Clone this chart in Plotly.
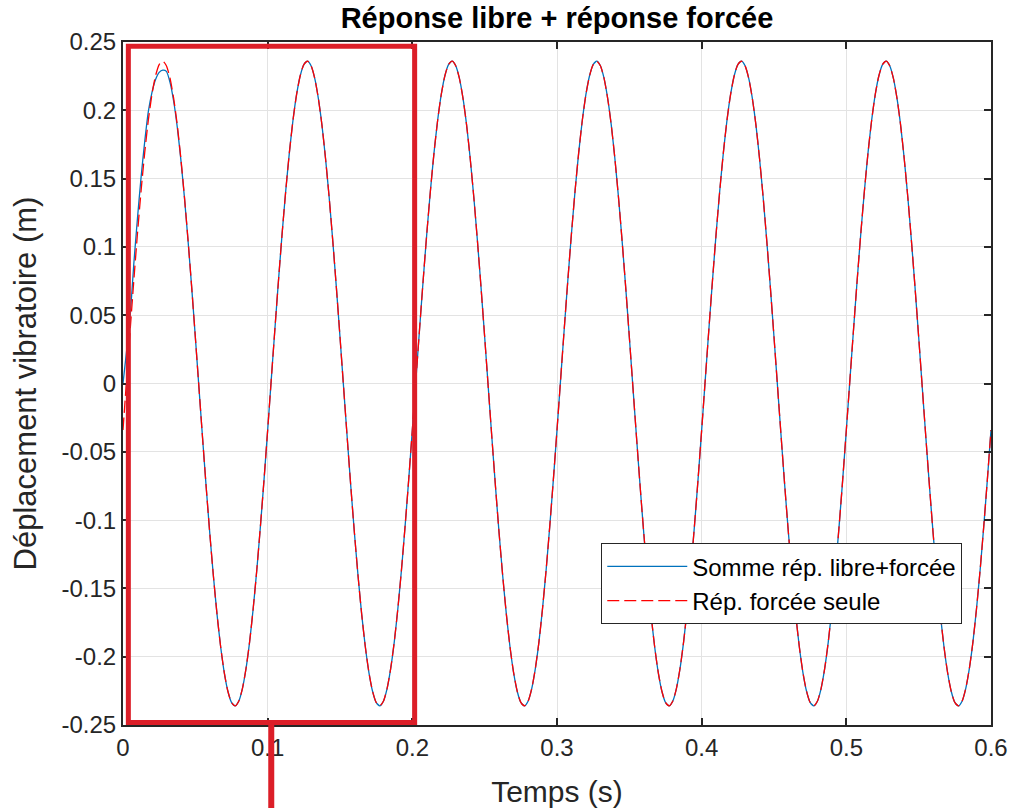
import plotly.graph_objects as go

# ---- data ----
time_s = [round(0.0025 * i, 4) for i in range(241)]

forced_only = [
    -0.0340, 0.0030, 0.0399, 0.0758, 0.1098, 0.1411, 0.1690, 0.1927, 0.2116, 0.2253, 0.2335, 0.2360, 0.2326, 0.2235, 0.2089, 0.1893, 0.1647, 0.1363, 0.1044, 0.0702,
    0.0340, -0.0030, -0.0399, -0.0758, -0.1098, -0.1411, -0.1690, -0.1927, -0.2116, -0.2253, -0.2335, -0.2360, -0.2326, -0.2235, -0.2089, -0.1893, -0.1647, -0.1363, -0.1044, -0.0702,
    -0.0340, 0.0030, 0.0399, 0.0758, 0.1098, 0.1411, 0.1690, 0.1927, 0.2116, 0.2253, 0.2335, 0.2360, 0.2326, 0.2235, 0.2089, 0.1893, 0.1647, 0.1363, 0.1044, 0.0702,
    0.0340, -0.0030, -0.0399, -0.0758, -0.1098, -0.1411, -0.1690, -0.1927, -0.2116, -0.2253, -0.2335, -0.2360, -0.2326, -0.2235, -0.2089, -0.1893, -0.1647, -0.1363, -0.1044, -0.0702,
    -0.0340, 0.0030, 0.0399, 0.0758, 0.1098, 0.1411, 0.1690, 0.1927, 0.2116, 0.2253, 0.2335, 0.2360, 0.2326, 0.2235, 0.2089, 0.1893, 0.1647, 0.1363, 0.1044, 0.0702,
    0.0340, -0.0030, -0.0399, -0.0758, -0.1098, -0.1411, -0.1690, -0.1927, -0.2116, -0.2253, -0.2335, -0.2360, -0.2326, -0.2235, -0.2089, -0.1893, -0.1647, -0.1363, -0.1044, -0.0702,
    -0.0340, 0.0030, 0.0399, 0.0758, 0.1098, 0.1411, 0.1690, 0.1927, 0.2116, 0.2253, 0.2335, 0.2360, 0.2326, 0.2235, 0.2089, 0.1893, 0.1647, 0.1363, 0.1044, 0.0702,
    0.0340, -0.0030, -0.0399, -0.0758, -0.1098, -0.1411, -0.1690, -0.1927, -0.2116, -0.2253, -0.2335, -0.2360, -0.2326, -0.2235, -0.2089, -0.1893, -0.1647, -0.1363, -0.1044, -0.0702,
    -0.0340, 0.0030, 0.0399, 0.0758, 0.1098, 0.1411, 0.1690, 0.1927, 0.2116, 0.2253, 0.2335, 0.2360, 0.2326, 0.2235, 0.2089, 0.1893, 0.1647, 0.1363, 0.1044, 0.0702,
    0.0340, -0.0030, -0.0399, -0.0758, -0.1098, -0.1411, -0.1690, -0.1927, -0.2116, -0.2253, -0.2335, -0.2360, -0.2326, -0.2235, -0.2089, -0.1893, -0.1647, -0.1363, -0.1044, -0.0702,
    -0.0340, 0.0030, 0.0399, 0.0758, 0.1098, 0.1411, 0.1690, 0.1927, 0.2116, 0.2253, 0.2335, 0.2360, 0.2326, 0.2235, 0.2089, 0.1893, 0.1647, 0.1363, 0.1044, 0.0702,
    0.0340, -0.0030, -0.0399, -0.0758, -0.1098, -0.1411, -0.1690, -0.1927, -0.2116, -0.2253, -0.2335, -0.2360, -0.2326, -0.2235, -0.2089, -0.1893, -0.1647, -0.1363, -0.1044, -0.0702,
    -0.0340,
]

free_plus_forced = [
    0.0000, 0.0240, 0.0500, 0.0880, 0.1210, 0.1510, 0.1770, 0.1990, 0.2130, 0.2225, 0.2278, 0.2294, 0.2285, 0.2205, 0.2068, 0.1878, 0.1637, 0.1357, 0.1040, 0.0700,
    0.0340, -0.0030, -0.0399, -0.0758, -0.1098, -0.1411, -0.1690, -0.1927, -0.2116, -0.2253, -0.2335, -0.2360, -0.2326, -0.2235, -0.2089, -0.1893, -0.1647, -0.1363, -0.1044, -0.0702,
    -0.0340, 0.0030, 0.0399, 0.0758, 0.1098, 0.1411, 0.1690, 0.1927, 0.2116, 0.2253, 0.2335, 0.2360, 0.2326, 0.2235, 0.2089, 0.1893, 0.1647, 0.1363, 0.1044, 0.0702,
    0.0340, -0.0030, -0.0399, -0.0758, -0.1098, -0.1411, -0.1690, -0.1927, -0.2116, -0.2253, -0.2335, -0.2360, -0.2326, -0.2235, -0.2089, -0.1893, -0.1647, -0.1363, -0.1044, -0.0702,
    -0.0340, 0.0030, 0.0399, 0.0758, 0.1098, 0.1411, 0.1690, 0.1927, 0.2116, 0.2253, 0.2335, 0.2360, 0.2326, 0.2235, 0.2089, 0.1893, 0.1647, 0.1363, 0.1044, 0.0702,
    0.0340, -0.0030, -0.0399, -0.0758, -0.1098, -0.1411, -0.1690, -0.1927, -0.2116, -0.2253, -0.2335, -0.2360, -0.2326, -0.2235, -0.2089, -0.1893, -0.1647, -0.1363, -0.1044, -0.0702,
    -0.0340, 0.0030, 0.0399, 0.0758, 0.1098, 0.1411, 0.1690, 0.1927, 0.2116, 0.2253, 0.2335, 0.2360, 0.2326, 0.2235, 0.2089, 0.1893, 0.1647, 0.1363, 0.1044, 0.0702,
    0.0340, -0.0030, -0.0399, -0.0758, -0.1098, -0.1411, -0.1690, -0.1927, -0.2116, -0.2253, -0.2335, -0.2360, -0.2326, -0.2235, -0.2089, -0.1893, -0.1647, -0.1363, -0.1044, -0.0702,
    -0.0340, 0.0030, 0.0399, 0.0758, 0.1098, 0.1411, 0.1690, 0.1927, 0.2116, 0.2253, 0.2335, 0.2360, 0.2326, 0.2235, 0.2089, 0.1893, 0.1647, 0.1363, 0.1044, 0.0702,
    0.0340, -0.0030, -0.0399, -0.0758, -0.1098, -0.1411, -0.1690, -0.1927, -0.2116, -0.2253, -0.2335, -0.2360, -0.2326, -0.2235, -0.2089, -0.1893, -0.1647, -0.1363, -0.1044, -0.0702,
    -0.0340, 0.0030, 0.0399, 0.0758, 0.1098, 0.1411, 0.1690, 0.1927, 0.2116, 0.2253, 0.2335, 0.2360, 0.2326, 0.2235, 0.2089, 0.1893, 0.1647, 0.1363, 0.1044, 0.0702,
    0.0340, -0.0030, -0.0399, -0.0758, -0.1098, -0.1411, -0.1690, -0.1927, -0.2116, -0.2253, -0.2335, -0.2360, -0.2326, -0.2235, -0.2089, -0.1893, -0.1647, -0.1363, -0.1044, -0.0702,
    -0.0340,
]

x_tick_vals = [0, 0.1, 0.2, 0.3, 0.4, 0.5, 0.6]
x_tick_text = ["0", "0.1", "0.2", "0.3", "0.4", "0.5", "0.6"]
y_tick_vals = [-0.25, -0.2, -0.15, -0.1, -0.05, 0, 0.05, 0.1, 0.15, 0.2, 0.25]
y_tick_text = ["-0.25", "-0.2", "-0.15", "-0.1", "-0.05", "0", "0.05", "0.1", "0.15", "0.2", "0.25"]

name_sum = "Somme rép. libre+forcée"
name_forced = "Rép. forcée seule"

FONT = "Liberation Sans, Arial, sans-serif"
AX = "#262626"
MARK_RED = "#DC1E28"

fig = go.Figure()
fig.add_trace(go.Scatter(
    x=time_s, y=free_plus_forced, mode="lines", name=name_sum,
    line=dict(color="#0072BD", width=1.3, shape="spline", smoothing=0.6),
))
fig.add_trace(go.Scatter(
    x=time_s, y=forced_only, mode="lines", name=name_forced,
    line=dict(color="#FF0000", width=1.3, dash="12px,5px", shape="spline", smoothing=0.6),
))

axis_common = dict(
    showline=True, linecolor=AX, linewidth=2, mirror="allticks",
    ticks="inside", ticklen=7, tickwidth=1.5, tickcolor=AX,
    showgrid=True, gridcolor="#E3E3E3", gridwidth=1,
    zeroline=False, automargin=False,
    tickfont=dict(family=FONT, size=24, color=AX),
)

fig.update_xaxes(
    range=[0, 0.6], tickvals=x_tick_vals, ticktext=x_tick_text,
    title=dict(text="Temps (s)", font=dict(family=FONT, size=30, color=AX), standoff=26),
    **axis_common,
)
fig.update_yaxes(
    range=[-0.25, 0.25], tickvals=y_tick_vals, ticktext=y_tick_text,
    title=dict(text="Déplacement vibratoire (m)", font=dict(family=FONT, size=31, color=AX), standoff=16),
    **axis_common,
)

# red highlight box and pointer line (overlay annotations of the reference)
fig.add_shape(type="rect", xref="x", yref="y", x0=0.0037, x1=0.2016, y0=-0.2482, y1=0.2468,
              line=dict(color=MARK_RED, width=5), fillcolor="rgba(0,0,0,0)", layer="above")
fig.add_shape(type="line", xref="paper", yref="paper", x0=0.1708, x1=0.1708, y0=0.003, y1=-0.14,
              line=dict(color=MARK_RED, width=6), layer="above")

fig.update_layout(
    width=1009, height=808,
    margin=dict(l=123, r=18, t=42, b=83),
    paper_bgcolor="white", plot_bgcolor="white",
    title=dict(text="<b>Réponse libre + réponse forcée</b>", x=0.5, xref="paper",
               y=1 - 18 / 808, yref="container", yanchor="middle", xanchor="center",
               font=dict(family=FONT, size=29, color="black")),
    legend=dict(x=0.551, y=0.266, xanchor="left", yanchor="top",
                bgcolor="white", bordercolor=AX, borderwidth=1,
                font=dict(family=FONT, size=24, color="black"),
                itemwidth=80, tracegroupgap=0),
    showlegend=True,
)

fig.write_html("out.html")
